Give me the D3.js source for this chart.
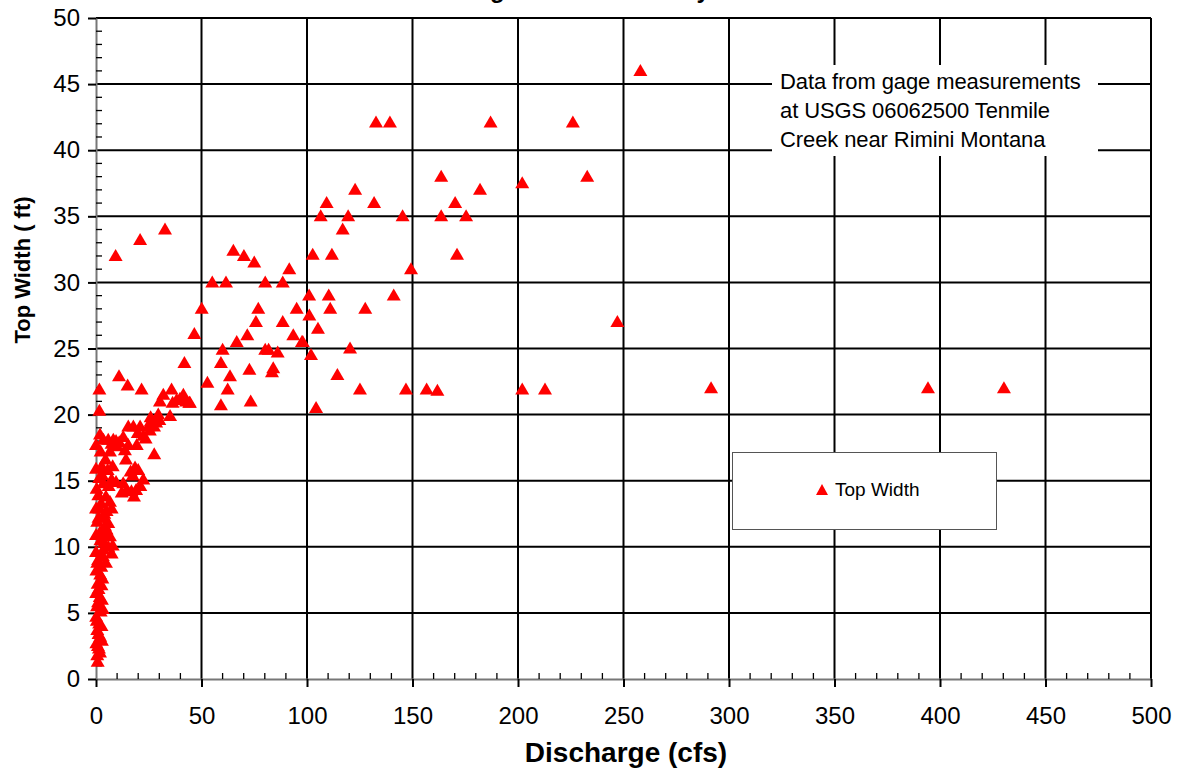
<!DOCTYPE html>
<html lang="en">
<head>
    <meta charset="UTF-8">
    <title>Top Width vs Discharge</title>
    <script src="https://d3js.org/d3.v7.min.js"></script>
    <style>
        body { margin: 0; background: #fff; }
        svg { font-family: "Liberation Sans", Arial, sans-serif; }
    </style>
</head>
<body>
    <div id="chart"></div>

    <script>
        // discharge (cfs) and top width (ft)
        var discharge = [
            132.7, 139.3, 187, 226, 258,
            163.6, 232.8, 122.8, 182, 202,
            109.3, 131.8, 170.2,
            106.5, 119.5, 145.3, 163.6, 175.4,
            116.9,
            102.7, 111.8, 171.1,
            149.3,
            101, 110.3, 141.1,
            111, 127.6,
            101.1, 105.2, 247.1,
            98, 120.4, 101.9,
            114.4,
            125.1, 146.9, 156.7, 161.8, 202, 212.8, 291.5, 394.3, 430.3,
            104.3,
            9.3, 20.9, 32.7,
            65.1, 70.1, 75, 91.6,
            55.1, 61.6, 80.2, 88.5,
            50.1, 76.9, 95.1,
            75.8, 88.5,
            46.6, 71.7, 93.5,
            66.7, 97.6,
            60, 80.2, 81.8, 86.1,
            41.9, 59.2, 72.7, 84, 83.4,
            63.5, 10.9, 15, 21.6, 1.6, 52.8, 62.4, 35.8,
            31.9, 30.3, 38.2, 41.4, 42.7, 44.5, 59.2, 73.3,
            36.3, 39.8, 44.2,
            1.6, 25.9, 29.5, 35.1,
            15.3, 17.7, 20.9, 24.8, 27.5,
            12.9, 8.2, 22.4, 3.5, 5.8, 7.4, 15.3, 19.3, 13.7, 27.6, 1.9, 0, 6.6,
            14.2, 7.9, 0, 2.7, 16.4, 17.4, 22.4, 7.4, 9.5, 3.5, 12.2, 14.5, 18, 19,
            0.3, 1.1, 4.7, 6.6, 0, 1.6, 5, 7.4, 0.6, 3.2, 5.8, 5, 0, 1.9, 6.6,
            7.9, 5.8, 3.8, 7.4, 3.2, 4.7, 0, 0.6,
            0.2, 2, 0.8, 2.6, 0.1, 1.8, 0.5, 2.2, 0.1, 1.5, 0.6, 2, 0.2, 1.4, 0.6, 0.8,
            1, 2.5, 3, 1.2, 2.8, 1, 3.2, 0.4, 2.6, 1.2, 2.8, 0.9, 1.9, 3.5, 2.1, 4.2,
            3.9, 2.4, 3, 5.5, 2.2, 4.5, 6, 1.5, 4.8, 1.2,
            11, 10, 25.5, 23.5, 26, 28.5, 30, 19.8, 9.5, 18.5, 20, 21, 16.8, 12.9
        ];
        var topWidth = [
            42.1, 42.1, 42.1, 42.1, 46,
            38, 38, 37, 37, 37.5,
            36, 36, 36,
            35, 35, 35, 35, 35,
            34,
            32.1, 32.1, 32.1,
            31,
            29, 29, 29,
            28, 28,
            27.5, 26.5, 27,
            25.5, 25, 24.5,
            23,
            21.9, 21.9, 21.9, 21.8, 21.9, 21.9, 22, 22, 22,
            20.5,
            32, 33.2, 34,
            32.4, 32, 31.5, 31,
            30, 30, 30, 30,
            28, 28, 28,
            27, 27,
            26.1, 26, 26,
            25.5, 25.5,
            24.9, 24.9, 24.9, 24.7,
            23.9, 23.9, 23.4, 23.5, 23.2,
            22.9, 22.9, 22.2, 21.9, 21.9, 22.4, 21.9, 21.9,
            21.5, 21, 21.1, 21.5, 21, 20.9, 20.7, 21,
            20.9, 21.2, 20.9,
            20.3, 19.8, 20, 19.9,
            19.1, 19.1, 19.1, 19.1, 19.1,
            18.3, 18.1, 18.4, 18.1, 18.1, 17.8, 17.7, 17.7, 17.3, 17, 18.5, 17.7, 17.2,
            16.6, 16.1, 15.9, 16.1, 15.7, 15.4, 15.1, 15.1, 14.9, 14.8, 14.1, 14.3, 13.8, 14.3,
            14.4, 13.9, 13.8, 13.4, 12.9, 12.9, 12.7, 12.9, 11.9, 12.2, 11.8, 11.3, 10.9, 11.1, 10.8,
            10.1, 10, 10.3, 9.5, 9.3, 8.8, 9.6, 8.8,
            8.2, 7.9, 7.2, 7.1, 6.5, 6.2, 5.5, 5.1, 4.7, 4.2, 3.7, 3.2, 2.7, 2.3, 1.8, 1.3,
            9, 8.5, 7.6, 6.8, 6, 5.8, 5.3, 4.4, 4, 3.4, 2.9, 2.5, 2, 9.8, 10.5, 11.6,
            12.5, 13.3, 15.4, 15.8, 17.2, 16.6, 14.6, 15.2, 10.8, 12.2,
            17.9, 17.6, 18.8, 18.2, 19.5, 19.4, 19.6, 18.6, 18, 16, 15.8, 14.6, 14.2, 14.8
        ];
        var xTicks = [0, 50, 100, 150, 200, 250, 300, 350, 400, 450, 500];
        var yTicks = [0, 5, 10, 15, 20, 25, 30, 35, 40, 45, 50];
        var noteLines = ["Data from gage measurements", "at USGS 06062500 Tenmile", "Creek near Rimini Montana"];
        var seriesName = "Top Width";

        var width = 1181, height = 771;
        var x = d3.scaleLinear().domain([0, 500]).range([96, 1151]);
        var y = d3.scaleLinear().domain([0, 50]).range([679, 18]);

        var svg = d3.select("#chart").append("svg")
            .attr("width", width)
            .attr("height", height);

        // title sits above the page edge, only descenders show (as in the source image)
        svg.append("text")
            .attr("x", 289)
            .attr("y", -2)
            .attr("font-size", "24px")
            .attr("font-weight", "bold")
            .text("Tenmile Creek Gage Width Geometry");

        // grid
        var grid = svg.append("g").attr("stroke", "#000").attr("stroke-width", 2);
        grid.selectAll(".vg")
            .data(xTicks.slice(1))
            .enter().append("line")
            .attr("x1", function(d) { return x(d); })
            .attr("x2", function(d) { return x(d); })
            .attr("y1", y(50))
            .attr("y2", y(0));
        grid.selectAll(".hg")
            .data(yTicks.slice(1))
            .enter().append("line")
            .attr("x1", x(0))
            .attr("x2", x(500))
            .attr("y1", function(d) { return y(d); })
            .attr("y2", function(d) { return y(d); });

        // note box
        svg.append("rect")
            .attr("x", 772).attr("y", 65)
            .attr("width", 326).attr("height", 91)
            .attr("fill", "#fff");
        svg.append("g").selectAll("text")
            .data(noteLines)
            .enter().append("text")
            .attr("x", 780)
            .attr("y", function(d, i) { return 89 + i * 29; })
            .attr("font-size", "22px")
            .attr("letter-spacing", "-0.1px")
            .attr("fill", "#000")
            .text(function(d) { return d; });

        // axes
        var xAxis = svg.append("g")
            .attr("transform", "translate(0," + y(0) + ")")
            .call(d3.axisBottom(x).tickValues(xTicks).tickSize(8).tickPadding(20).tickSizeOuter(0));
        var yAxis = svg.append("g")
            .attr("transform", "translate(" + x(0) + ",0)")
            .call(d3.axisLeft(y).tickValues(yTicks).tickSize(8).tickPadding(8).tickSizeOuter(0));
        [xAxis, yAxis].forEach(function(a) {
            a.select(".domain").attr("stroke", "#777").attr("stroke-width", 2);
            a.selectAll(".tick line").attr("stroke", "#000").attr("stroke-width", 2);
            a.selectAll(".tick text")
                .attr("font-size", "24px")
                .attr("font-family", "Liberation Sans, Arial, sans-serif")
                .attr("fill", "#000");
        });

        // minor ticks
        var xMinor = d3.range(0, 501, 10).filter(function(d) { return d % 50 !== 0; });
        var yMinor = d3.range(0, 51, 1).filter(function(d) { return d % 5 !== 0; });
        svg.append("g").attr("stroke", "#000").attr("stroke-width", 1.3)
            .selectAll("line")
            .data(xMinor)
            .enter().append("line")
            .attr("x1", function(d) { return x(d); })
            .attr("x2", function(d) { return x(d); })
            .attr("y1", y(0))
            .attr("y2", y(0) - 6);
        svg.append("g").attr("stroke", "#000").attr("stroke-width", 1.3)
            .selectAll("line")
            .data(yMinor)
            .enter().append("line")
            .attr("x1", x(0))
            .attr("x2", x(0) + 6)
            .attr("y1", function(d) { return y(d); })
            .attr("y2", function(d) { return y(d); });

        // points
        var tri = "M0,-7L7,5L-7,5Z";
        svg.append("g").selectAll("path")
            .data(discharge.map(function(d, i) { return [d, topWidth[i]]; }))
            .enter().append("path")
            .attr("d", tri)
            .attr("transform", function(d) { return "translate(" + x(d[0]) + "," + y(d[1]) + ")"; })
            .attr("fill", "#ff0000");

        // legend
        svg.append("rect")
            .attr("x", 732.5).attr("y", 452.5)
            .attr("width", 264).attr("height", 77)
            .attr("fill", "#fff")
            .attr("stroke", "#555")
            .attr("stroke-width", 1);
        svg.append("path")
            .attr("d", "M0,-6L6,5L-6,5Z")
            .attr("transform", "translate(822,490)")
            .attr("fill", "#ff0000");
        svg.append("text")
            .attr("x", 835).attr("y", 496)
            .attr("font-size", "19px")
            .text(seriesName);

        // axis titles
        svg.append("text")
            .attr("x", 626).attr("y", 762)
            .attr("text-anchor", "middle")
            .attr("font-size", "28px")
            .attr("font-weight", "bold")
            .text("Discharge (cfs)");
        svg.append("text")
            .attr("transform", "translate(30,270) rotate(-90)")
            .attr("text-anchor", "middle")
            .attr("font-size", "22px")
            .attr("font-weight", "bold")
            .text("Top Width ( ft)");
    </script>
</body>
</html>
